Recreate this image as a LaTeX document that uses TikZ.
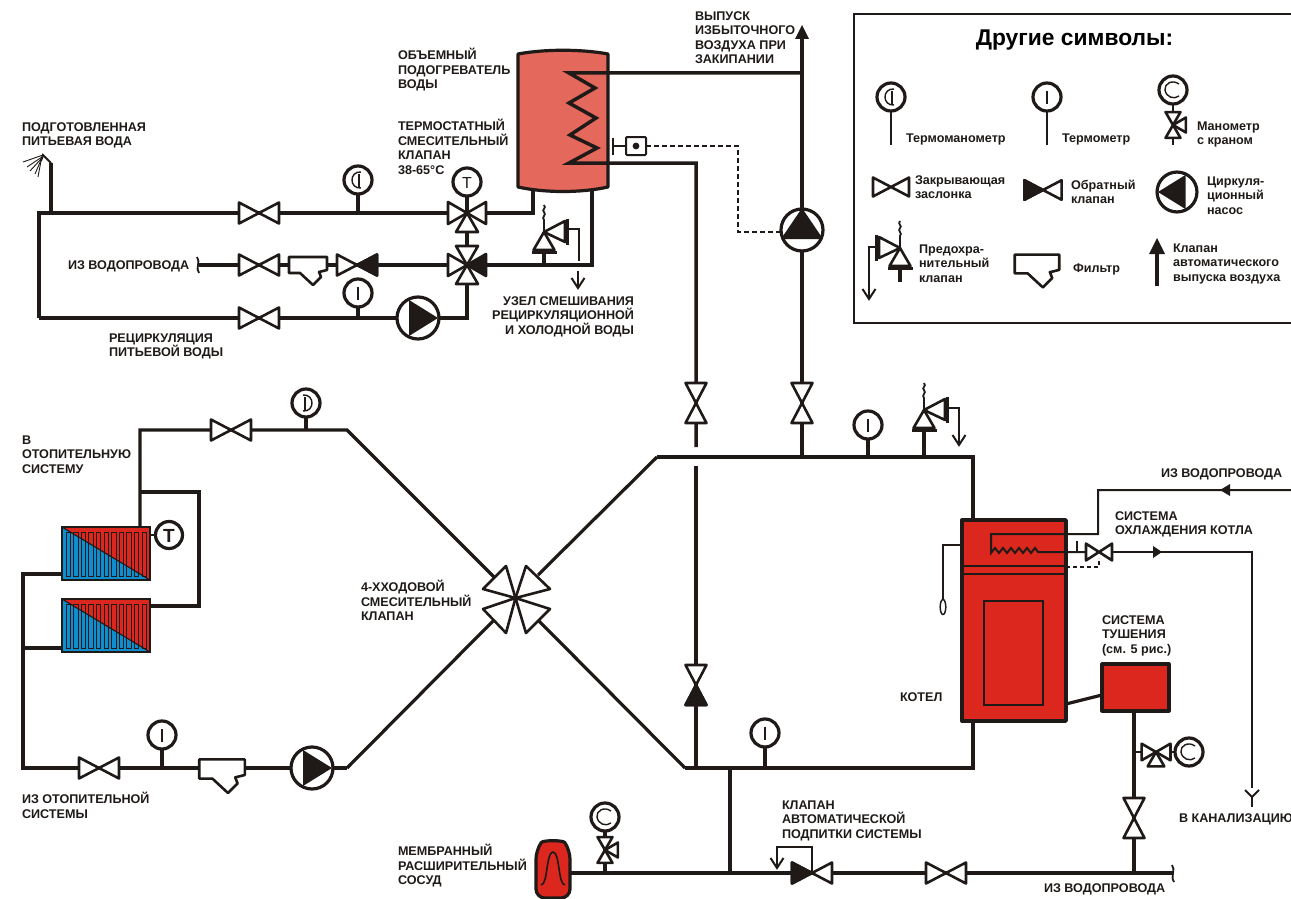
\documentclass[tikz,border=0pt]{standalone}
\usepackage{fontspec}
\setmainfont{Liberation Sans}
\definecolor{ink}{HTML}{1F1A17}
\definecolor{tankc}{HTML}{E4685C}
\definecolor{boilerc}{HTML}{DB271D}
\definecolor{radblue}{HTML}{0F8ECF}
\tikzset{
  pipe/.style={draw=ink,line width=3.2pt},
  thinp/.style={draw=ink,line width=2pt},
  sym/.style={draw=ink,line width=2.6pt,fill=white,line join=round},
  lbl/.style={inner sep=0pt,outer sep=0pt,anchor=north west,align=left,text=ink,font=\bfseries\fontsize{12.6}{14.4}\selectfont},
  lblr/.style={lbl,anchor=north east,align=right},
  bowtie/.pic={\path[sym] (-20,-10.5)--(20,10.5)--(20,-10.5)--(-20,10.5)--cycle;},
  checkv/.pic={\path[sym] (-20,-10.5)--(20,10.5)--(20,-10.5)--(-20,10.5)--cycle;
    \path[sym,fill=ink] (-20,-10.5)--(0,0)--(-20,10.5)--cycle;},
  wedge/.pic={\path[sym] (0,0)--(-19,-11)--(-19,11)--cycle;},
  wedgef/.pic={\path[sym,fill=ink] (0,0)--(-19,-11)--(-19,11)--cycle;},
  pumpsym/.pic={\path[draw=ink,line width=3.2pt,fill=white] (0,0) circle (21);
    \fill[ink] (-9,-18)--(20,0)--(-9,18)--cycle;},
  gaugeT/.pic={\path[draw=ink,line width=3.2pt,fill=white] (0,0) circle (14);
    \draw[ink,line width=1.4pt] (0,-6)--(0,7);},
  gaugeTM/.pic={\path[draw=ink,line width=3.2pt,fill=white] (0,0) circle (14);
    \draw[ink,line width=1.4pt] (1,-6)--(1,7);
    \draw[ink,line width=1.4pt] (3,-8) .. controls (-9,-9) and (-9,9) .. (3,8);},
  gaugeM/.pic={\path[draw=ink,line width=3.2pt,fill=white] (0,0) circle (14);
    \draw[ink,line width=1.4pt] (6,-6) .. controls (-1,-11) and (-9,-6) .. (-8,0) .. controls (-7,7) and (1,10) .. (6,6);},
  filtersym/.pic={\path[sym] (-19,-8)--(19,-8)--(19,5)--(11,7)--(13,12)--(5,20)--(-8,8)--(-19,8)--cycle;},
  safety/.pic={
    \draw[ink,line width=1.8pt] (0,0)--(0,-12) .. controls (-3,-15) and (3,-17) .. (0,-20) .. controls (-3,-22) and (3,-24) .. (0,-27);
    \path[sym] (0,0)--(-10.5,18)--(10.5,18)--cycle;
    \draw[ink,line width=2.6pt] (-12.5,20.5)--(12.5,20.5);
    \path[sym] (0,0)--(21,-11)--(21,10)--cycle;
    \draw[ink,line width=2.6pt] (23.5,-13.5)--(23.5,12.5);},
  dnarrow/.pic={\draw[ink,line width=2pt,line join=miter] (-6.5,-10)--(0,0)--(6.5,-10);},
  radiator/.pic={
    \fill[radblue] (0,0) rectangle (88,53);
    \fill[boilerc] (0,0)--(88,0)--(88,53)--cycle;
    \foreach \i in {0,...,10}{\draw[ink,line width=0.9pt] ({4+\i*7.6},5) rectangle ({8.4+\i*7.6},49);}
    \draw[ink,line width=1.1pt] (0,0)--(88,53);
    \draw[ink,line width=1.4pt] (0,0) rectangle (88,53);},
}
\newcommand\lab[4]{\node[lbl] (#1) at (#2,#3-5.5) {\rule{0pt}{10pt}#4};}
\newcommand\labr[4]{\node[lblr] (#1) at (#2,#3-5.5) {\rule{0pt}{10pt}#4};}
\begin{document}
\begin{tikzpicture}[x=1pt,y=-1pt]
\useasboundingbox[fill=white] (0,0) rectangle (1291,899);

% ---------- junction coordinates
\coordinate (fl) at (39,213); \coordinate (shj) at (51,213); \coordinate (sha) at (51,163); \coordinate (shb) at (43,155);
\coordinate (flb) at (39,318); \coordinate (mv3) at (467,213); \coordinate (mv4) at (467,265); \coordinate (tk1a) at (533,213);
\coordinate (tk1b) at (533,188); \coordinate (tk2a) at (592,265); \coordinate (tk2b) at (592,188); \coordinate (ws) at (199,265);
\coordinate (pr) at (467,318); \coordinate (sv1) at (544,265);
\coordinate (coilT) at (569,73); \coordinate (coilB) at (569,163); \coordinate (topj) at (802,73); \coordinate (airt) at (802,30);
\coordinate (rb1) at (696,163); \coordinate (rb2) at (696,447); \coordinate (rb3) at (696,466); \coordinate (rb4) at (696,768);
\coordinate (ptop) at (802,457);
\coordinate (bTL) at (657,457); \coordinate (bTR) at (973,457); \coordinate (bT2) at (973,520);
\coordinate (bBL) at (685,768); \coordinate (bBR) at (973,768); \coordinate (bB2) at (973,722);
\coordinate (mx) at (515.5,598);
\coordinate (a1) at (140,430); \coordinate (a2) at (347,430); \coordinate (a3) at (494,577); \coordinate (a4) at (538,575); \coordinate (a5) at (493,621); \coordinate (a6) at (538,620); \coordinate (a7) at (347,768);
\coordinate (r1) at (140,527); \coordinate (rj) at (140,492); \coordinate (rj2) at (199,492); \coordinate (rj3) at (199,606); \coordinate (rj4) at (150,606);
\coordinate (l1) at (62,574); \coordinate (l2) at (23,574); \coordinate (l3) at (23,768); \coordinate (l4) at (23,648); \coordinate (l5) at (62,648);
\coordinate (fv) at (730,768); \coordinate (fb) at (730,873); \coordinate (bl) at (570,873); \coordinate (br) at (1173,873);
\coordinate (ex1) at (1134,711); \coordinate (ex2) at (1134,873);

% ---------- pipes
\draw[pipe,line join=miter] (sha)--(shj);
\draw[thinp] (sha)--(shb)--(41,161);
\foreach \px/\py/\qx/\qy in {43/155/23/162, 42/157/27/167, 42/158/30/171, 41/160/35/174, 41/161/38/177}{\draw[ink,line width=0.9pt] (\px,\py)--(\qx,\qy);}
\draw[pipe,line join=miter] (flb)--(fl)--(tk1a)--(tk1b);
\draw[pipe] (flb)--(pr)--(mv4);
\draw[pipe] (mv3)--(mv4);
\draw[pipe,line join=miter] (ws)--(tk2a)--(tk2b);
\draw[pipe] (sv1)--(544,252);
% tank
\path[draw=ink,fill=tankc,line width=3.2pt,line join=round] (518,54) .. controls (545,49) and (581,49) .. (608,54) -- (608,187) .. controls (581,193) and (545,193) .. (518,187) -- cycle;
\draw[ink,line width=3.5pt,line join=miter] (topj)--(coilT)--(595,88)--(569,103)--(596,118)--(570,135)--(597,148)--(coilB)--(rb1)--(rb2);
\draw[pipe] (airt)--(ptop);
\draw[pipe] (rb3)--(rb4);
\draw[pipe] (bTL)--(bTR)--(bT2);
\draw[pipe] (bBL)--(bBR)--(bB2);
\draw[pipe,line join=miter] (a3)--(a2)--(a1)--(r1);
\draw[pipe] (a4)--(bTL);
\draw[pipe] (a5)--(a7);
\draw[pipe] (a6)--(bBL);
\draw[pipe,line join=miter] (rj)--(rj2)--(rj3)--(rj4);
\draw[pipe,line join=miter] (l1)--(l2)--(l3)--(a7);
\draw[pipe] (l4)--(l5);
\draw[pipe] (fv)--(fb);
\draw[pipe] (bl)--(br);
\draw[pipe] (ex1)--(ex2);
\draw[pipe] (358,180)--(358,213);
\draw[pipe] (358,293)--(358,318);
\draw[pipe] (467,182)--(467,213);
\draw[pipe] (306,403)--(306,430);
\draw[pipe] (162,735)--(162,768);
\draw[pipe] (868,425)--(868,457);
\draw[pipe] (924,430)--(924,457);
\draw[pipe] (765,733)--(765,768);
\draw[pipe] (605,831)--(605,873);
\draw[thinp] (1134,752)--(1189,752);

% ---------- air vent arrow
\fill[ink] (802,25)--(809,39)--(795,39)--cycle;

% ---------- cap ends
\draw[ink,line width=1.8pt] (197,257) .. controls (201,262) and (195,268) .. (199,273);
\draw[ink,line width=1.8pt] (1172,865) .. controls (1176,870) and (1170,876) .. (1174,882);

% ---------- upper valves
\pic at (259,213) {bowtie};
\pic at (259,265) {bowtie};
\pic at (308,265) {filtersym};
\pic[xscale=-1] at (357,265) {checkv};
\pic at (259,318) {bowtie};
\pic at (358,180) {gaugeTM};
\pic at (358,293) {gaugeT};
\pic at (418,318) {pumpsym};
\pic at (mv3) {wedge};
\pic[rotate=180] at (mv3) {wedge};
\pic[rotate=90] at (mv3) {wedge};
\pic at (mv4) {wedge};
\pic[rotate=180] at (mv4) {wedgef};
\pic[rotate=90] at (mv4) {wedge};
\pic[rotate=-90] at (mv4) {wedge};
\path[draw=ink,line width=3.2pt,fill=white] (467,182) circle (14);
\node[inner sep=0pt,text=ink,font=\fontsize{16}{16}\selectfont] (thT) at (467,182.5) {T};
\pic at (544,232) {safety};
\draw[thinp,line join=miter] (567,229)--(579,229)--(579,261);
\draw[ink,line width=2pt] (578,271)--(578,287);
\pic at (578,288) {dnarrow};

% ---------- sensor
\draw[ink,line width=2.4pt] (613,138)--(613,155);
\draw[ink,line width=2pt] (613,146)--(626,146);
\path[draw=ink,line width=2pt,fill=white,rounded corners=1pt] (626,137) rectangle (646,155);
\fill[ink] (636,146) circle (3.4);
\draw[ink,line width=2pt,dash pattern=on 5pt off 3pt] (646,146)--(738,146)--(738,232)--(780,232);

% ---------- main pump / valves
\path[draw=ink,line width=3.2pt,fill=white] (802,230) circle (21);
\fill[ink] (802,208)--(823,239)--(781,239)--cycle;
\pic[rotate=90] at (696,403) {bowtie};
\pic[rotate=90] at (802,403) {bowtie};
\pic[rotate=90] at (696,685) {checkv};
\pic at (868,425) {gaugeT};
\pic at (924,410) {safety};
\draw[thinp,line join=miter] (948,408)--(959,408)--(959,445);
\pic at (959,445) {dnarrow};
\pic at (765,733) {gaugeT};

% ---------- 4-way valve
\foreach \ax/\ay/\bx/\by in {506/566/483/589, 526/566/550/589, 483/609/506/633, 550/609/526/633}{
  \path[sym] (mx)--(\ax,\ay)--(\bx,\by)--cycle;}

% ---------- heating circuit
\pic at (231,430) {bowtie};
\pic[xscale=-1] at (306,403) {gaugeTM};
\pic at (62,527) {radiator};
\pic at (62,599) {radiator};
\draw[ink,line width=2.4pt] (150,535)--(156,535);
\path[draw=ink,line width=3.2pt,fill=white] (169,535) circle (13.5);
\node[inner sep=0pt,text=ink,font=\bfseries\fontsize{19}{19}\selectfont] (rdT) at (169,535.5) {T};
\pic at (99,768) {bowtie};
\pic at (162,735) {gaugeT};
\pic[scale=1.2] at (222,769) {filtersym};
\pic at (312,768) {pumpsym};

% ---------- boiler
\path[draw=ink,fill=boilerc,line width=3.4pt,line join=round] (962,520) rectangle (1066,721);
\draw[ink,line width=1.2pt] (963,566)--(1065,566);
\draw[ink,line width=1.2pt] (963,574)--(1065,574);
\draw[ink,line width=1.4pt] (984,601) rectangle (1043,705);
\draw[thinp] (962,545)--(943,545)--(943,600);
\path[draw=ink,line width=1.5pt,fill=white] (943,607) ellipse (2.8 and 7.5);
\draw[ink,line width=2pt,line join=miter] (1087,552)--(1038,552)--(1035,548)--(1031,553)--(1027,548)--(1023,553)--(1019,548)--(1015,553)--(1011,548)--(1007,553)--(1003,548)--(999,553)--(995,548)--(991,553)--(991,534)--(1098,534)--(1098,490)--(1291,490);
\draw[ink,line width=1.8pt] (1077,541)--(1077,552);
\draw[thinp] (1112,552)--(1252,552)--(1252,788);
\fill[ink] (1162,552)--(1153,546)--(1153,558)--cycle;
\fill[ink] (1220,490)--(1230,484)--(1230,496)--cycle;
\draw[ink,line width=1.5pt,dash pattern=on 4pt off 3pt] (1066,567)--(1099,567)--(1099,558);
\pic[xscale=0.65,yscale=0.8] at (1099,552) {bowtie};
\draw[ink,line width=2pt] (1245,790)--(1252,797)--(1259,790);
\draw[ink,line width=2pt] (1252,797)--(1252,807);

% ---------- extinguishing system
\draw[pipe] (1066,704)--(1102,695);
\path[draw=ink,fill=boilerc,line width=3.2pt,line join=round] (1102,664) rectangle (1169,711);
\pic[scale=0.76] at (1156,752) {wedge};
\pic[scale=0.76,rotate=180] at (1156,752) {wedge};
\pic[scale=0.76,rotate=90] at (1156,752) {wedge};
\pic at (1189,752) {gaugeM};
\pic[rotate=90] at (1134,818) {bowtie};

% ---------- make-up line
\path[draw=ink,fill=boilerc,line width=3.2pt,rounded corners=9pt] (536,898) -- (536,850) .. controls (543,840) and (563,840) .. (570,850) -- (570,898) -- cycle;
\draw[ink,line width=1.6pt] (541,885) .. controls (548,885) and (546,852) .. (553,852) .. controls (560,852) and (558,885) .. (565,885);
\pic at (605,817) {gaugeM};
\pic[scale=0.68,rotate=-90] at (605,850) {wedge};
\pic[scale=0.68,rotate=90] at (605,850) {wedge};
\pic[scale=0.68,rotate=180] at (605,850) {wedge};
\draw[thinp,line join=miter] (812,873)--(812,847)--(777,847)--(777,867);
\pic at (777,868) {dnarrow};
\pic at (812,873) {checkv};
\pic at (946,873) {bowtie};

% ---------- legend
\draw[ink,line width=1.6pt] (1293,14)--(854,14)--(854,323)--(1293,323);
\node[inner sep=0pt,text=black,font=\bfseries\fontsize{22.8}{24}\selectfont] (title) at (1074.5,40) {Другие символы:};
\draw[thinp] (891,97)--(891,145);
\pic at (891,97) {gaugeTM};
\draw[thinp] (1047,97)--(1047,145);
\pic at (1047,97) {gaugeT};
\draw[thinp] (1173,90)--(1173,145);
\pic at (1173,90) {gaugeM};
\pic[scale=0.68,rotate=-90] at (1173,125) {wedge};
\pic[scale=0.68,rotate=90] at (1173,125) {wedge};
\pic[scale=0.68,rotate=180] at (1173,125) {wedge};
\pic[scale=0.9] at (891,187) {bowtie};
\pic[scale=0.93] at (1043,190) {checkv};
\pic[rotate=180,scale=0.95] at (1177,192) {pumpsym};
\pic[xscale=-1] at (900,248) {safety};
\draw[pipe] (900,268)--(900,282);
\draw[thinp,line join=miter] (877,247)--(869,247)--(869,298);
\pic at (869,299) {dnarrow};
\pic[scale=1.17] at (1037,264) {filtersym};
\draw[pipe] (1157,250)--(1157,286);
\fill[ink] (1157,238)--(1165,254)--(1149,254)--cycle;

% ---------- legend texts
\lab{t1}{906}{138}{Термоманометр}
\lab{t2}{1062}{138}{Термометр}
\lab{t3}{1197}{126}{Манометр\\с краном}
\lab{t4}{915}{180}{Закрывающая\\заслонка}
\lab{t5}{1071}{185}{Обратный\\клапан}
\lab{t6}{1207}{181}{Циркуля-\\ционный\\насос}
\lab{t7}{919}{249}{Предохра-\\нительный\\клапан}
\lab{t8}{1073}{268}{Фильтр}
\lab{t9}{1173}{248}{Клапан\\автоматического\\выпуска воздуха}

% ---------- diagram texts
\lab{d1}{22}{127}{ПОДГОТОВЛЕННАЯ\\ПИТЬЕВАЯ ВОДА}
\lab{d2}{398}{54}{ОБЪЕМНЫЙ\\ПОДОГРЕВАТЕЛЬ\\ВОДЫ}
\lab{d3}{398}{125}{ТЕРМОСТАТНЫЙ\\СМЕСИТЕЛЬНЫЙ\\КЛАПАН\\38-65°C}
\lab{d4}{695}{16}{ВЫПУСК\\ИЗБЫТОЧНОГО\\ВОЗДУХА ПРИ\\ЗАКИПАНИИ}
\lab{d5}{68}{265}{ИЗ ВОДОПРОВОДА}
\lab{d6}{109}{338}{РЕЦИРКУЛЯЦИЯ\\ПИТЬЕВОЙ ВОДЫ}
\labr{d7}{634}{301}{УЗЕЛ СМЕШИВАНИЯ\\РЕЦИРКУЛЯЦИОННОЙ\\И ХОЛОДНОЙ ВОДЫ}
\lab{d8}{22}{440}{В\\ОТОПИТЕЛЬНУЮ\\СИСТЕМУ}
\lab{d9}{361}{586}{4-ХХОДОВОЙ\\СМЕСИТЕЛЬНЫЙ\\КЛАПАН}
\lab{d10}{22}{798}{ИЗ ОТОПИТЕЛЬНОЙ\\СИСТЕМЫ}
\lab{d11}{398}{850}{МЕМБРАННЫЙ\\РАСШИРИТЕЛЬНЫЙ\\СОСУД}
\lab{d12}{782}{805}{КЛАПАН\\АВТОМАТИЧЕСКОЙ\\ПОДПИТКИ СИСТЕМЫ}
\lab{d13}{1044}{888}{ИЗ ВОДОПРОВОДА}
\lab{d14}{1179}{818}{В КАНАЛИЗАЦИЮ}
\lab{d15}{900}{697}{КОТЕЛ}
\lab{d16}{1102}{620}{СИСТЕМА\\ТУШЕНИЯ\\(см. 5 рис.)}
\lab{d17}{1115}{516}{СИСТЕМА\\ОХЛАЖДЕНИЯ КОТЛА}
\lab{d18}{1161}{473}{ИЗ ВОДОПРОВОДА}
\end{tikzpicture}
\end{document}
